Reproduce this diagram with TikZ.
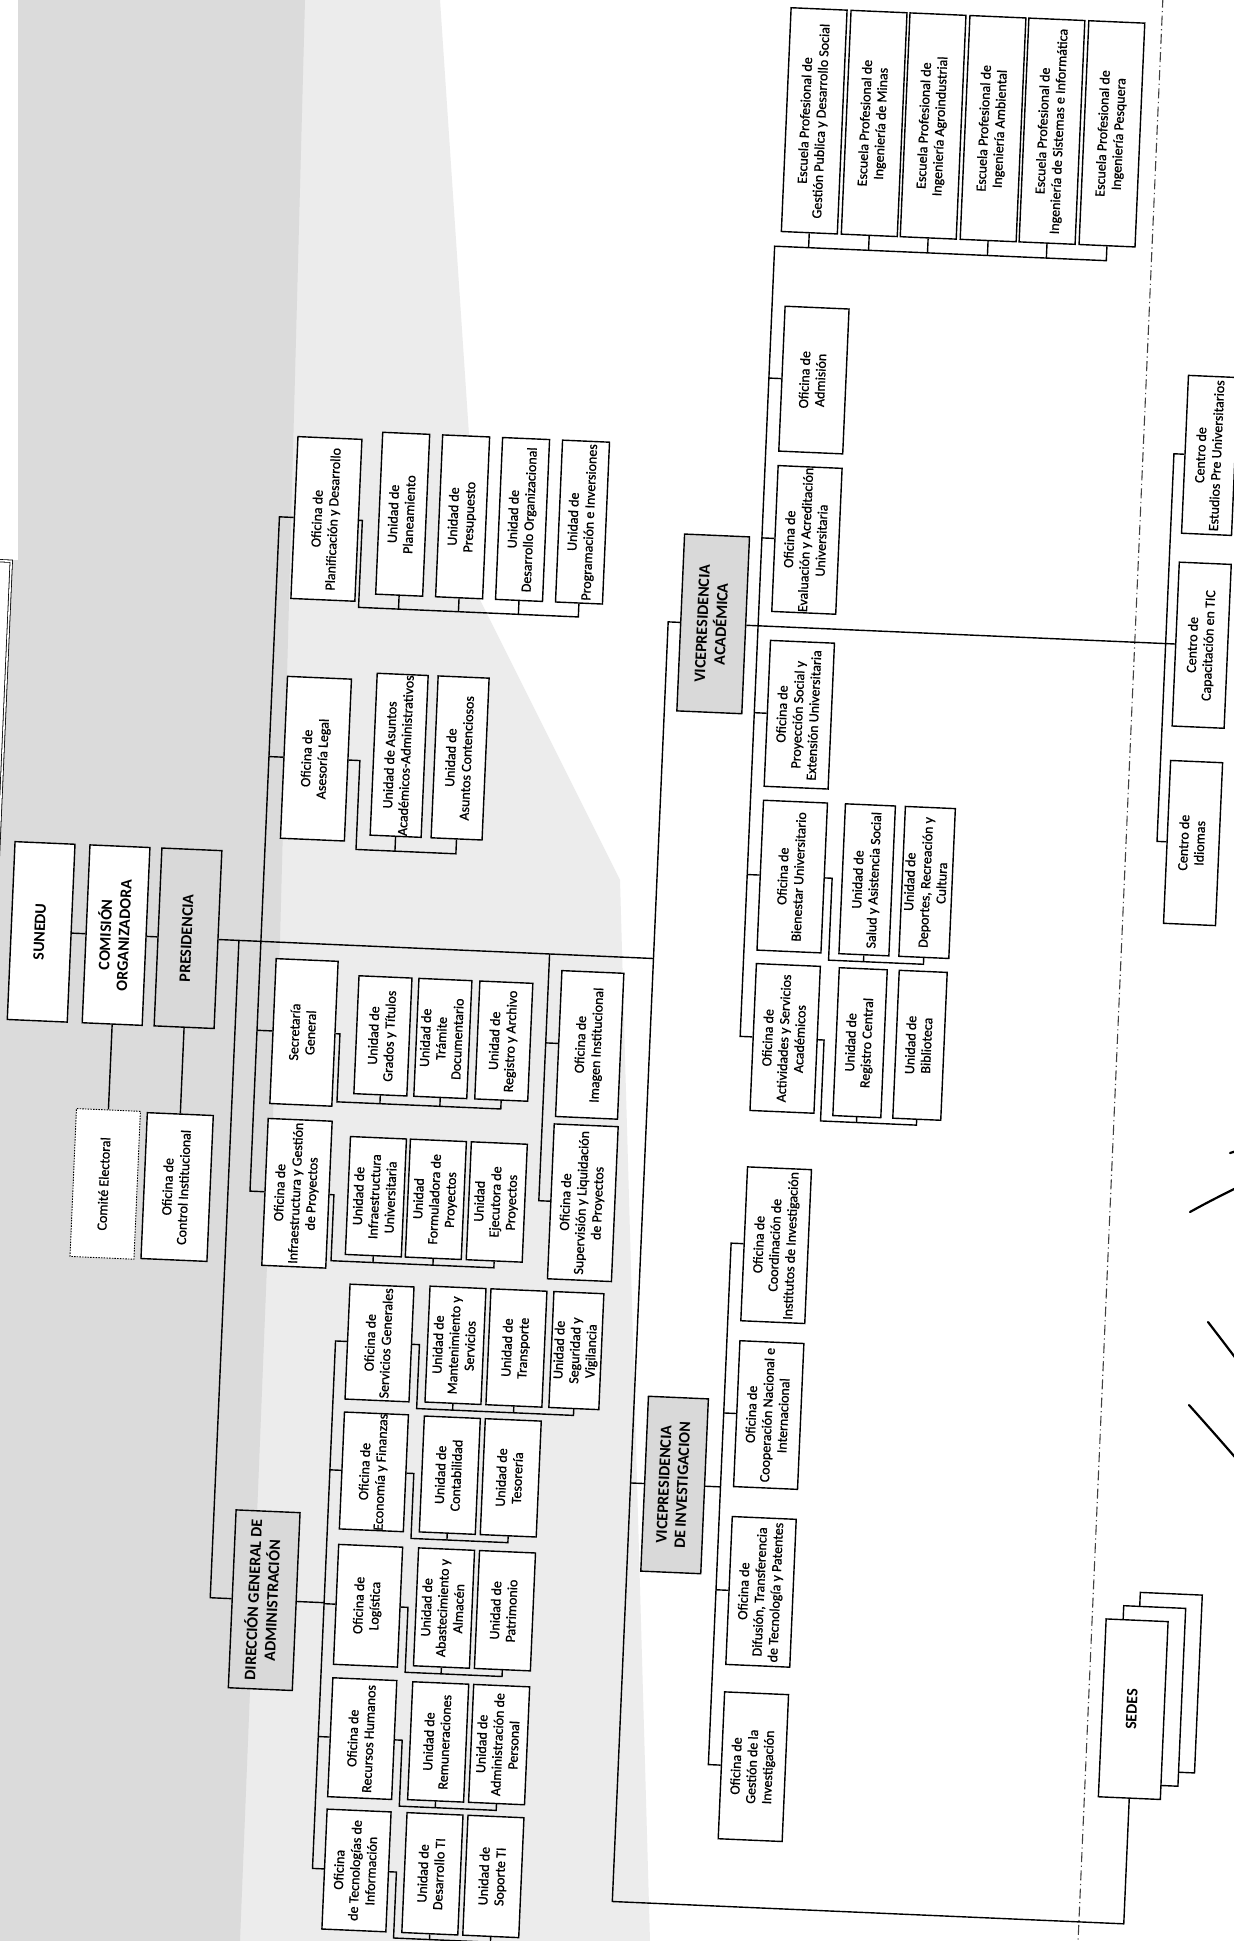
\documentclass[tikz,border=0pt]{standalone}
\usepackage{fontspec}
\setmainfont{Carlito}
\newfontfamily\semib{Carlito}[FakeBold=0.8]
\usepackage{graphicx}
\newcommand{\vt}[1]{\rotatebox{90}{\begin{tabular}{@{}c@{}}#1\end{tabular}}}
\tikzset{
  box/.style={draw, line width=1.4pt, fill=white, inner sep=0pt, font=\semib\fontsize{14}{16}\selectfont},
  gbox/.style={box, fill=gray!30, font=\bfseries\fontsize{16}{18.5}\selectfont},
  wbox/.style={box, font=\bfseries\fontsize{16}{18.5}\selectfont},
  dbox/.style={box, line width=0.9pt, dash pattern=on 1.5pt off 1.2pt},
  conn/.style={line width=1.4pt},
  sig/.style={line width=2.2pt, line cap=round},
}
\begin{document}
\begin{tikzpicture}[x=1pt,y=-1pt]
\useasboundingbox (0,0) rectangle (1234,1941);
\clip (0,0) rectangle (1234,1941);
\fill[white] (0,0) rectangle (1234,1941);
% scan shading
\fill[gray!15] (18,0) -- (440,0) -- (480,600) -- (620,880) -- (650,1941) -- (0,1941) -- (0,560) -- (18,560) -- cycle;
\fill[gray!28] (18,0) -- (305,0) -- (280,940) -- (240,1941) -- (0,1941) -- (0,560) -- (18,560) -- cycle;

\begin{scope}[rotate around={-2.5:(617,970)}, transform shape]
% partial box at left edge
\draw[double, double distance=1.6pt, line width=0.8pt, fill=white] (-80,588) rectangle (-6,1060);
% dash-dot separator
\draw[line width=1.1pt, dash pattern=on 10pt off 3.5pt on 1.2pt off 3.5pt, black!75] (1120,-80) -- (1120,2040);

% top chain
\node[wbox, minimum width=60, minimum height=178] (SUN) at (40,957) {\vt{SUNEDU}};
\node[wbox, minimum width=60, minimum height=178] (COM) at (115,957) {\vt{COMISIÓN\\ORGANIZADORA}};
\node[gbox, minimum width=60, minimum height=178] (PRES) at (187,957) {\vt{PRESIDENCIA}};
\node[dbox, minimum width=64, minimum height=148] (CE) at (115,1206) {\vt{Comité Electoral}};
\node[box, minimum width=66, minimum height=146] (OCI) at (187,1206) {\vt{Oficina de\\Control Institucional}};

% Planificacion
\node[box, minimum width=64, minimum height=162] (PLAN) at (307,532) {\vt{Oficina de\\Planificación y Desarrollo}};
\node[box, minimum width=47, minimum height=162] (UPL) at (383,524) {\vt{Unidad de\\Planeamiento}};
\node[box, minimum width=47, minimum height=162] (UPR) at (443,524) {\vt{Unidad de\\Presupuesto}};
\node[box, minimum width=47, minimum height=162] (UDO) at (503,524) {\vt{Unidad de\\Desarrollo Organizacional}};
\node[box, minimum width=47, minimum height=162] (UPI) at (563,524) {\vt{Unidad de\\Programación e Inversiones}};
% Asesoria
\node[box, minimum width=64, minimum height=162] (ASES) at (307,772) {\vt{Oficina de\\Asesoría Legal}};
\node[box, minimum width=51, minimum height=162] (UAA) at (390,765) {\vt{Unidad de Asuntos\\Académicos-Administrativos}};
\node[box, minimum width=51, minimum height=162] (UAC) at (451,765) {\vt{Unidad de\\Asuntos Contenciosos}};
% Secretaria
\node[box, minimum width=62, minimum height=145] (SEC) at (307,1046) {\vt{Secretaría\\General}};
\node[box, minimum width=53, minimum height=118] (UGT) at (386,1046) {\vt{Unidad de\\Grados y Títulos}};
\node[box, minimum width=53, minimum height=118] (UTD) at (446,1046) {\vt{Unidad de\\Trámite\\Documentario}};
\node[box, minimum width=53, minimum height=118] (URA) at (507,1046) {\vt{Unidad de\\Registro y Archivo}};
% Infraestructura
\node[box, minimum width=64, minimum height=147] (INF) at (307,1207) {\vt{Oficina de\\Infraestructura y Gestión\\de Proyectos}};
\node[box, minimum width=56, minimum height=118] (UIU) at (386,1207) {\vt{Unidad de\\Infraestructura\\Universitaria}};
\node[box, minimum width=56, minimum height=118] (UFP) at (446,1207) {\vt{Unidad\\Formuladora de\\Proyectos}};
\node[box, minimum width=56, minimum height=118] (UEP) at (507,1207) {\vt{Unidad\\Ejecutora de\\Proyectos}};
% Imagen / Supervision
\node[box, minimum width=62, minimum height=146] (IMG) at (593,1046) {\vt{Oficina de\\Imagen Institucional}};
\node[box, minimum width=64, minimum height=155] (SUP) at (593,1204) {\vt{Oficina de\\Supervisión y Liquidación\\de Proyectos}};

% Direccion general
\node[gbox, minimum width=64, minimum height=178] (DIR) at (292,1615) {\vt{DIRECCIÓN GENERAL DE\\ADMINISTRACIÓN}};
\node[box, minimum width=64, minimum height=115] (SER) at (396,1353) {\vt{Oficina de\\Servicios Generales}};
\node[box, minimum width=56, minimum height=116] (UMS) at (472,1352) {\vt{Unidad de\\Mantenimiento y\\Servicios}};
\node[box, minimum width=56, minimum height=116] (UTR) at (533,1352) {\vt{Unidad de\\Transporte}};
\node[box, minimum width=50, minimum height=116] (USV) at (593,1352) {\vt{Unidad de\\Seguridad y\\Vigilancia}};
\node[box, minimum width=64, minimum height=117] (ECO) at (396,1482) {\vt{Oficina de\\Economía y Finanzas}};
\node[box, minimum width=56, minimum height=116] (UCO) at (472,1482) {\vt{Unidad de\\Contabilidad}};
\node[box, minimum width=56, minimum height=116] (UTE) at (533,1482) {\vt{Unidad de\\Tesorería}};
\node[box, minimum width=64, minimum height=120] (LOG) at (396,1616) {\vt{Oficina de\\Logística}};
\node[box, minimum width=56, minimum height=118] (UAB) at (472,1615) {\vt{Unidad de\\Abastecimiento y\\Almacén}};
\node[box, minimum width=56, minimum height=118] (UPA) at (533,1615) {\vt{Unidad de\\Patrimonio}};
\node[box, minimum width=64, minimum height=119] (RH) at (396,1749) {\vt{Oficina de\\Recursos Humanos}};
\node[box, minimum width=56, minimum height=118] (URE) at (472,1749) {\vt{Unidad de\\Remuneraciones}};
\node[box, minimum width=56, minimum height=118] (UAP) at (533,1749) {\vt{Unidad de\\Administración de\\Personal}};
\node[box, minimum width=64, minimum height=120] (OTI) at (396,1881) {\vt{Oficina\\de Tecnologías de\\Información}};
\node[box, minimum width=56, minimum height=120] (UDT) at (472,1881) {\vt{Unidad de\\Desarrollo TI}};
\node[box, minimum width=56, minimum height=120] (UST) at (533,1881) {\vt{Unidad de\\Soporte TI}};

% Vicepresidencia academica
\node[gbox, minimum width=65, minimum height=177] (VPA) at (698,620) {\vt{VICEPRESIDENCIA\\ACADÉMICA}};
\node[box, minimum width=56, minimum height=224] (E1) at (777,113) {\vt{Escuela Profesional de\\Gestión Publica y Desarrollo Social}};
\node[box, minimum width=56, minimum height=224] (E2) at (837,113) {\vt{Escuela Profesional de\\Ingeniería de Minas}};
\node[box, minimum width=56, minimum height=224] (E3) at (896,113) {\vt{Escuela Profesional de\\Ingeniería Agroindustrial}};
\node[box, minimum width=56, minimum height=224] (E4) at (956,113) {\vt{Escuela Profesional de\\Ingeniería Ambiental}};
\node[box, minimum width=56, minimum height=224] (E5) at (1015,113) {\vt{Escuela Profesional de\\Ingeniería de Sistemas e Informática}};
\node[box, minimum width=56, minimum height=224] (E6) at (1075,113) {\vt{Escuela Profesional de\\Ingeniería Pesquera}};
\node[box, minimum width=64, minimum height=145] (ADM) at (788,372) {\vt{Oficina de\\Admisión}};
\node[box, minimum width=64, minimum height=146] (EVA) at (788,532) {\vt{Oficina de\\Evaluación y Acreditación\\Universitaria}};
\node[box, minimum width=64, minimum height=146] (PRO) at (788,707) {\vt{Oficina de\\Proyección Social y\\Extensión Universitaria}};
\node[box, minimum width=64, minimum height=150] (BIE) at (788,869) {\vt{Oficina de\\Bienestar Universitario}};
\node[box, minimum width=50, minimum height=150] (USA) at (863,869) {\vt{Unidad de\\Salud y Asistencia Social}};
\node[box, minimum width=50, minimum height=150] (UDR) at (923,869) {\vt{Unidad de\\Deportes, Recreación y\\Cultura}};
\node[box, minimum width=64, minimum height=147] (ACT) at (788,1031) {\vt{Oficina de\\Actividades y Servicios\\Académicos}};
\node[box, minimum width=48, minimum height=148] (URC) at (863,1032) {\vt{Unidad de\\Registro Central}};
\node[box, minimum width=48, minimum height=148] (UBI) at (923,1032) {\vt{Unidad de\\Biblioteca}};
% Centros
\node[box, minimum width=50, minimum height=158] (CPU) at (1187,430) {\vt{Centro de\\Estudios Pre Universitarios}};
\node[box, minimum width=52, minimum height=164] (CTI) at (1187,620) {\vt{Centro de\\Capacitación en TIC}};
\node[box, minimum width=52, minimum height=163] (CID) at (1187,818) {\vt{Centro de\\Idiomas}};

% Vicepresidencia de investigacion
\node[gbox, minimum width=60, minimum height=175] (VPI) at (697,1482) {\vt{VICEPRESIDENCIA\\DE INVESTIGACION}};
\node[box, minimum width=64, minimum height=154] (OCO) at (788,1238) {\vt{Oficina de\\Coordinación de\\Institutos de Investigación}};
\node[box, minimum width=64, minimum height=146] (OCN) at (788,1408) {\vt{Oficina de\\Cooperación Nacional e\\Internacional}};
\node[box, minimum width=64, minimum height=148] (ODT) at (788,1585) {\vt{Oficina de\\Difusión, Transferencia\\de Tecnología y Patentes}};
\node[box, minimum width=64, minimum height=147] (OGI) at (788,1760) {\vt{Oficina de\\Gestión de la\\Investigación}};

% Sedes (stacked)
\node[box, minimum width=62, minimum height=178] (SED3) at (1198,1658) {};
\node[box, minimum width=62, minimum height=178] (SED2) at (1182,1672) {};
\node[wbox, minimum width=62, minimum height=178] (SED) at (1165,1686) {\vt{SEDES}};

% ---------- connectors ----------
\draw[conn] (SUN.east) -- (COM.west);
\draw[conn] (COM.east) -- (PRES.west);
\draw[conn] (COM.south) -- (CE.north);
\draw[conn] (PRES.south) -- (OCI.north);
% main bus
\coordinate (mb) at (653,1901);
\draw[conn] (PRES.east) -- (PRES.east -| mb);
\draw[conn] (VPA.west) -| (mb) -| (SED.south);
\draw[conn] (VPI.west) -- (VPI.west -| mb);
% Direccion bus
\coordinate (db) at (238,957);
\draw[conn] (db) |- (DIR.west);
% bus of offices
\coordinate (bb) at (260,532);
\draw[conn] (PLAN.west) -- (bb) |- (INF.west);
\draw[conn] (ASES.west) -- (ASES.west -| bb);
\draw[conn] (SEC.west) -- (SEC.west -| bb);
% Imagen bus
\coordinate (ib) at (549,957);
\draw[conn] (ib) |- (SUP.west);
\draw[conn] (IMG.west) -- (IMG.west -| ib);
% brackets
\coordinate (kPL) at (343,619);
\draw[conn] (PLAN.east) -| (kPL) -| (UPI.south);
\foreach \n in {UPL,UPR,UDO} \draw[conn] (\n.south) -- (\n.south |- kPL);
\coordinate (kAS) at (351,861);
\draw[conn] (ASES.east) -| (kAS) -| (UAC.south);
\draw[conn] (UAA.south) -- (UAA.south |- kAS);
\coordinate (kSE) at (343,1114);
\draw[conn] (SEC.east) -| (kSE) -| (URA.south);
\foreach \n in {UGT,UTD} \draw[conn] (\n.south) -- (\n.south |- kSE);
\coordinate (kIN) at (344,1273);
\draw[conn] (INF.east) -| (kIN) -| (UEP.south);
\foreach \n in {UIU,UFP} \draw[conn] (\n.south) -- (\n.south |- kIN);
% Direccion
\coordinate (d2) at (352,1353);
\draw[conn] (SER.west) -- (d2) |- (OTI.west);
\draw[conn] (DIR.east) -- (DIR.east -| d2);
\foreach \n in {ECO,LOG,RH} \draw[conn] (\n.west) -- (\n.west -| d2);
\coordinate (kSV) at (436,1417);
\draw[conn] (SER.east) -| (kSV) -| (USV.south);
\foreach \n in {UMS,UTR} \draw[conn] (\n.south) -- (\n.south |- kSV);
\coordinate (kEC) at (436,1547);
\draw[conn] (ECO.east) -| (kEC) -| (UTE.south);
\draw[conn] (UCO.south) -- (UCO.south |- kEC);
\coordinate (kLO) at (436,1681);
\draw[conn] (LOG.east) -| (kLO) -| (UPA.south);
\draw[conn] (UAB.south) -- (UAB.south |- kLO);
\coordinate (kRH) at (436,1815);
\draw[conn] (RH.east) -| (kRH) -| (UAP.south);
\draw[conn] (URE.south) -- (URE.south |- kRH);
\coordinate (kTI) at (436,1947);
\draw[conn] (OTI.east) -| (kTI) -| (UST.south);
\draw[conn] (UDT.south) -- (UDT.south |- kTI);
% VP academica
\coordinate (va) at (743,240);
\draw[conn] (ACT.west) -| (va) -| (E6.south);
\foreach \n in {E1,E2,E3,E4,E5} \draw[conn] (\n.south) -- (\n.south |- va);
\foreach \n in {ADM,EVA,PRO,BIE} \draw[conn] (\n.west) -- (\n.west -| va);
\coordinate (kBI) at (828,951);
\draw[conn] (BIE.east) -| (kBI) -| (UDR.south);
\draw[conn] (USA.south) -- (USA.south |- kBI);
\coordinate (kAC) at (827,1112);
\draw[conn] (ACT.east) -| (kAC) -| (UBI.south);
\draw[conn] (URC.south) -- (URC.south |- kAC);
\draw[conn] (VPA.east) -- (CTI.west);
\coordinate (cb) at (1151,430);
\draw[conn] (CPU.west) -- (cb) |- (CID.west);
% VP investigacion
\coordinate (vi) at (743,1238);
\draw[conn] (OCO.west) -- (vi) |- (OGI.west);
\draw[conn] (VPI.east) -- (VPI.east -| vi);
\foreach \n in {OCN,ODT} \draw[conn] (\n.west) -- (\n.west -| vi);
\end{scope}

% handwritten strokes
\draw[sig] (1190,1212) .. controls (1206,1203) and (1222,1195) .. (1240,1186);
\draw[sig] (1230,1153) -- (1240,1150);
\draw[sig] (1208,1322) .. controls (1218,1335) and (1228,1348) .. (1240,1364);
\draw[sig] (1189,1405) .. controls (1205,1423) and (1222,1442) .. (1240,1463);
\end{tikzpicture}
\end{document}
